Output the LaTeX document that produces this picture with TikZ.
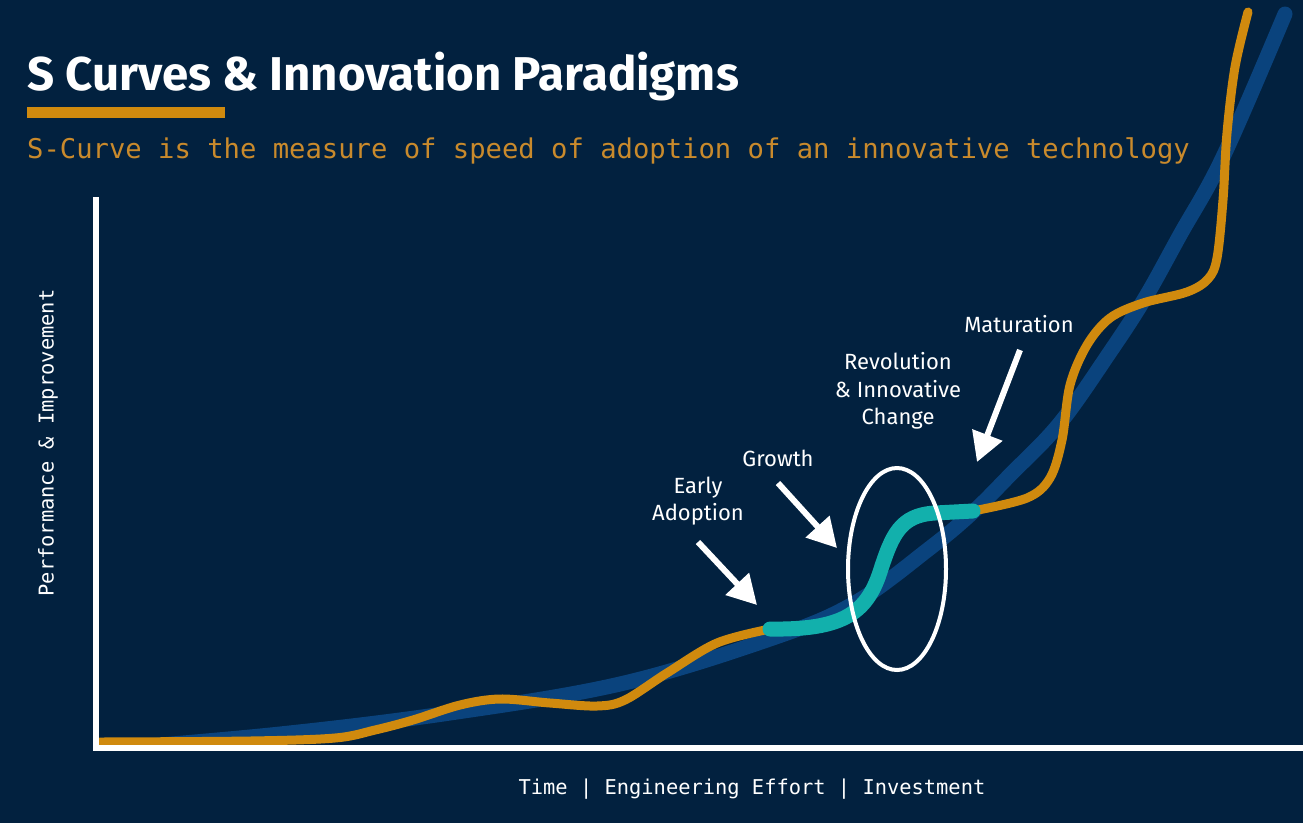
\documentclass[tikz,border=0pt]{standalone}
\usepackage{fontspec}
\setmainfont{Fira Sans}
\newfontfamily\monofont{DejaVu Sans Mono}
\usetikzlibrary{arrows.meta,shapes.geometric}
\definecolor{bg}{HTML}{02213F}
\definecolor{gold}{HTML}{D08A0E}
\definecolor{subgold}{HTML}{C98A2C}
\definecolor{bluecurve}{HTML}{0A437D}
\definecolor{tealc}{HTML}{12B0AC}
\tikzset{
  lbl/.style={text=white, font=\fontsize{22}{27.5}\selectfont, align=center, inner sep=0pt},
  monolbl/.style={text=white, font=\monofont\fontsize{20.4}{24}\selectfont, inner sep=0pt},
  pointer/.style={draw=white, line width=6pt, -{Triangle[length=29pt,width=31pt]}},
  goldline/.style={gold, line width=9pt, line cap=round},
}
\begin{document}
\begin{tikzpicture}[x=1pt,y=-1pt]
\useasboundingbox (0,0) rectangle (1303,823);
\fill[bg] (0,0) rectangle (1303,823);

% title
\node[anchor=base west, text=white, inner sep=0pt, font=\fontsize{47.4}{52}\selectfont\bfseries] (title) at (27,90) {S Curves \& Innovation Paradigms};
\fill[gold] (27,107) rectangle (225,118);
\node[anchor=base west, text=subgold, inner sep=0pt, font=\monofont\fontsize{27.2}{30}\selectfont] (subtitle) at (27,158) {S-Curve is the measure of speed of adoption of an innovative technology};

% blue reference curve
\begin{scope}
\clip (99,0) rectangle (1303,745);
\draw[bluecurve, line width=15pt, line cap=round] plot[smooth, tension=0.6] coordinates {
(100,750) (280,734) (450,713) (620,684) (767,640) (853,604) (930,548) (973,512)
(1010,475) (1060,423) (1110,352) (1145,298) (1180,235) (1223,157) (1285,14)};
\end{scope}

% orange s-curves
\draw[goldline] plot[smooth, tension=0.55] coordinates {
(100,742) (250,741) (335,738) (375,730) (413,720) (460,705) (500,699) (550,703)
(597,706) (625,700) (667,673) (717,643) (770,629)};
\draw[goldline] (770,629) .. controls (840,630) and (866,615) .. (880,572)
  .. controls (892,535) and (900,515) .. (935,513) -- (973,511);
\draw[goldline] plot[smooth, tension=0.55] coordinates {
(973,511) (1027,498) (1050,478) (1062,440) (1070,385)
(1087,345) (1110,318) (1143,303) (1187,292) (1208,279) (1217,258) (1223,200)
(1227,133) (1235,67) (1248,12)};

% teal highlighted segment
\draw[tealc, line width=15pt, line cap=round] (770,629) .. controls (840,630) and (866,615) .. (880,572)
  .. controls (892,535) and (900,515) .. (935,513) -- (973,511);

% ellipse
\node[draw=white, line width=4pt, ellipse, minimum width=98pt, minimum height=202pt, inner sep=0pt] (ring) at (897,569) {};

% axes
\draw[white, line width=6pt] (96,197) -- (96,748) -- (1303,748);

% axis labels
\node[monolbl, rotate=90] (ylab) at (48,443) {Performance \& Improvement};
\node[monolbl] (xlab) at (752,789) {Time | Engineering Effort | Investment};

% stage labels
\node[lbl] (early) at (698,501) {Early\\Adoption};
\node[lbl] (growth) at (778,458) {Growth};
\node[lbl] (revo) at (898,391) {Revolution\\\& Innovative\\Change};
\node[lbl] (matur) at (1019,324) {Maturation};

% arrows
\coordinate (ea1) at (698,542);
\coordinate (ea2) at (757,605);
\coordinate (gr1) at (778,483);
\coordinate (gr2) at (837,548);
\coordinate (ma1) at (1020,350);
\coordinate (ma2) at (977,462);
\draw[pointer] (ea1) -- (ea2);
\draw[pointer] (gr1) -- (gr2);
\draw[pointer] (ma1) -- (ma2);
\end{tikzpicture}
\end{document}
